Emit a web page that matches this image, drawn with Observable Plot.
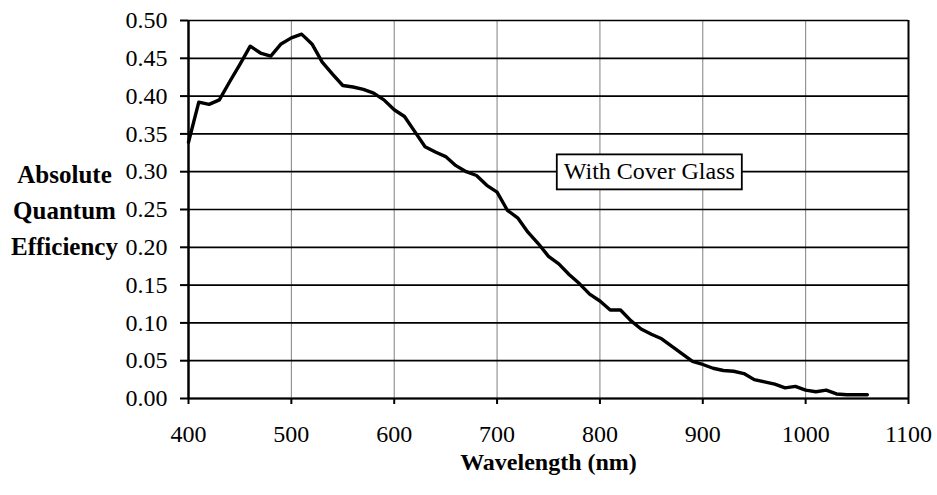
<!DOCTYPE html>
<html><head><meta charset="utf-8">
<script src="https://cdn.jsdelivr.net/npm/d3@7"></script>
<script src="https://cdn.jsdelivr.net/npm/@observablehq/plot@0.6"></script>
<style>html,body{margin:0;padding:0;background:#fff;}</style>
</head><body><div id="chart"></div>
<script>
const wavelengths = [400,410,420,430,440,450,460,470,480,490,500,510,520,530,540,550,560,570,580,590,600,610,620,630,640,650,660,670,680,690,700,710,720,730,740,750,760,770,780,790,800,810,820,830,840,850,860,870,880,890,900,910,920,930,940,950,960,970,980,990,1000,1010,1020,1030,1040,1050,1060];
const efficiency = [0.339,0.392,0.389,0.395,0.419,0.442,0.466,0.457,0.453,0.469,0.477,0.482,0.469,0.445,0.429,0.414,0.412,0.409,0.404,0.395,0.382,0.373,0.353,0.333,0.326,0.320,0.308,0.300,0.295,0.282,0.273,0.249,0.239,0.220,0.205,0.188,0.178,0.164,0.152,0.138,0.129,0.117,0.117,0.103,0.092,0.085,0.079,0.069,0.059,0.049,0.045,0.040,0.037,0.036,0.033,0.025,0.022,0.019,0.014,0.016,0.011,0.009,0.011,0.006,0.005,0.005,0.005];
const xTicks = [400,500,600,700,800,900,1000,1100];
const yTicks = [0,0.05,0.10,0.15,0.20,0.25,0.30,0.35,0.40,0.45,0.50];
const yAxisLabel = ["Absolute","Quantum","Efficiency"];
const xAxisLabel = ["Wavelength (nm)"];
const annotations = [{label:"With Cover Glass", wavelength:848, qe:0.30}];

const data = wavelengths.map((w,i)=>({w, qe: efficiency[i]}));
const FONT = "'Liberation Serif','Times New Roman',serif";

const chart = Plot.plot({
  width: 937, height: 495,
  marginLeft: 188, marginRight: 29, marginTop: 20, marginBottom: 97,
  x: {domain:[400,1100]},
  y: {domain:[0,0.5]},
  style: {fontFamily: FONT, fontSize: "24px", color: "#000", background: "#fff", overflow: "visible"},
  marks: [
    Plot.gridX(xTicks, {stroke:"#808080", strokeOpacity:1, strokeWidth:1}),
    Plot.gridY(yTicks, {stroke:"#000", strokeOpacity:1, strokeWidth:1.7}),
    Plot.ruleX([1100], {stroke:"#000", strokeWidth:2}),
    Plot.axisX(xTicks, {tickSize:6, tickPadding:20, tickFormat:d=>String(d), label:null, strokeWidth:2}),
    Plot.axisY(yTicks, {tickSize:8, tickPadding:13, tickFormat:d3.format(".2f"), label:null, strokeWidth:2}),
    Plot.ruleX([400], {stroke:"#000", strokeWidth:2.5}),
    Plot.ruleY([0], {stroke:"#000", strokeWidth:2.2}),
    Plot.line(data, {x:"w", y:"qe", stroke:"#000", strokeWidth:3.4, strokeLinejoin:"round"}),
    Plot.text(annotations, {x:"wavelength", y:"qe", text:"label", fontSize:24, fill:"#000"}),
    Plot.text([yAxisLabel.join("\n")], {text:d=>d, frameAnchor:"left", dx:-124, dy:-2, textAnchor:"middle", lineAnchor:"middle", lineHeight:1.45, fontWeight:"bold", fontSize:25, fill:"#000"}),
    Plot.text(xAxisLabel, {text:d=>d, frameAnchor:"bottom", dy:64, textAnchor:"middle", lineAnchor:"middle", fontWeight:"bold", fontSize:24, fill:"#000"})
  ]
});
document.getElementById("chart").appendChild(chart);

// draw white box behind the annotation label
chart.querySelectorAll("text").forEach(t => {
  if (annotations.some(a => a.label === t.textContent)) {
    const b = t.getBBox();
    const r = document.createElementNS("http://www.w3.org/2000/svg", "rect");
    r.setAttribute("x", b.x - 7);
    r.setAttribute("y", b.y - 4);
    r.setAttribute("width", b.width + 14);
    r.setAttribute("height", b.height + 9);
    r.setAttribute("fill", "#fff");
    r.setAttribute("stroke", "#000");
    r.setAttribute("stroke-width", 1.8);
    const tr = t.getAttribute("transform");
    if (tr) r.setAttribute("transform", tr);
    t.parentNode.insertBefore(r, t);
  }
});
</script>
</body></html>
